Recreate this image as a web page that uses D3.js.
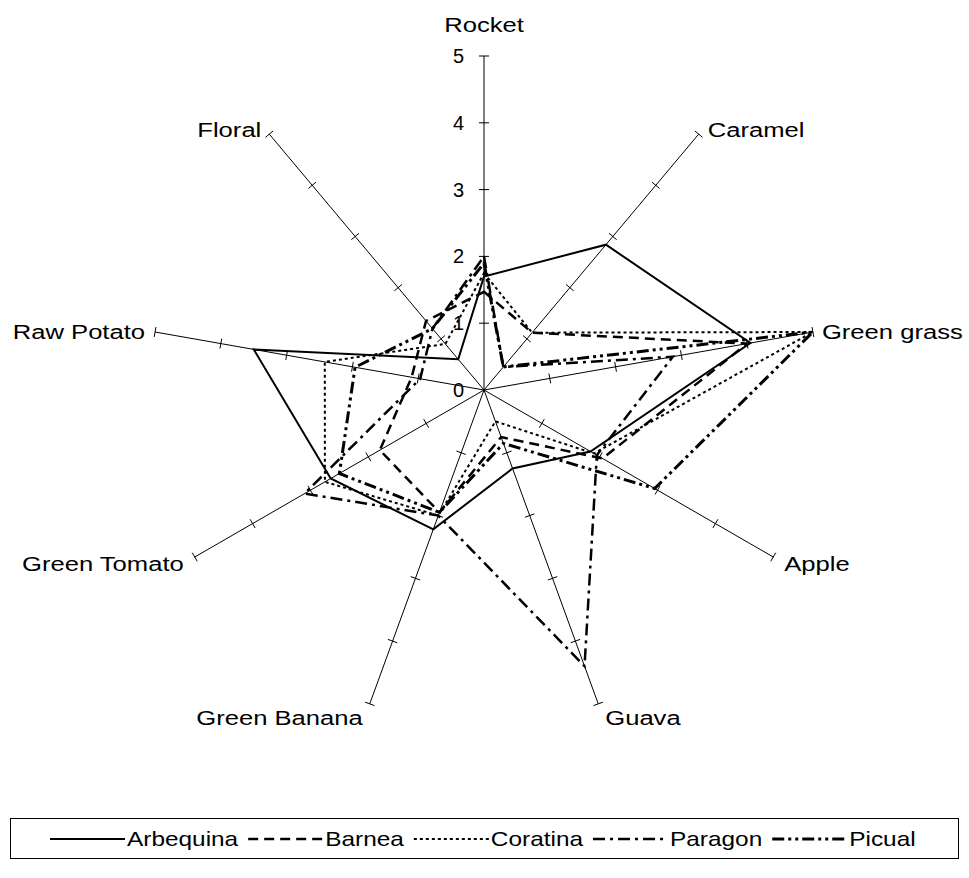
<!DOCTYPE html>
<html>
<head>
<meta charset="utf-8">
<script src="https://cdn.jsdelivr.net/npm/d3@7"></script>
<style>
  body { margin: 0; background: #fff; }
  svg { font-family: "Liberation Sans", Arial, sans-serif; }
</style>
</head>
<body>
<svg id="chart" width="969" height="878"></svg>
<script>
// attributes around the radar, clockwise from the top
var attributes = ['Rocket', 'Caramel', 'Green grass', 'Apple', 'Guava', 'Green Banana', 'Green Tomato', 'Raw Potato', 'Floral'];
var scaleTicks = [0, 1, 2, 3, 4, 5];

var arbequina = [1.7, 2.84, 4.05, 1.84, 1.25, 2.22, 2.65, 3.5, 0.6];
var barnea    = [1.47, 1.12, 4.0, 2.05, 0.75, 1.95, 1.8, 1.1, 1.35];
var coratina  = [1.75, 1.12, 5.0, 1.9, 0.5, 2.0, 2.75, 2.42, 0.9];
var paragon   = [2.0, 0.45, 2.87, 1.95, 4.4, 2.0, 3.1, 0.97, 1.2];
var picual    = [1.9, 0.45, 5.0, 2.95, 0.85, 1.95, 2.5, 1.96, 1.2];

var cultivars = ['Arbequina', 'Barnea', 'Coratina', 'Paragon', 'Picual'];
var seriesValues = [arbequina, barnea, coratina, paragon, picual];

var lineStyles = {
  Arbequina: { dash: null, width: 2 },
  Barnea: { dash: '10,6', width: 2.5 },
  Coratina: { dash: '3,3', width: 2 },
  Paragon: { dash: '12,5,3,5', width: 2.5 },
  Picual: { dash: '12,4,3,4,3,4', width: 3 }
};

// the original text is drawn a little wide
var stretch = 1.22;

var svg = d3.select('#chart');
var cx = 484, cy = 390;

var r = d3.scaleLinear().domain([0, 5]).range([0, 334]);
var angle = d3.scaleLinear().domain([0, attributes.length]).range([0, 2 * Math.PI]);

function pt(i, v) {
  var a = angle(i);
  return [cx + r(v) * Math.sin(a), cy - r(v) * Math.cos(a)];
}

var g = svg.append('g');

// spokes
g.selectAll('line.spoke')
  .data(attributes)
  .enter().append('line')
  .attr('class', 'spoke')
  .attr('x1', cx).attr('y1', cy)
  .attr('x2', (d, i) => pt(i, 5)[0])
  .attr('y2', (d, i) => pt(i, 5)[1])
  .attr('stroke', '#000')
  .attr('stroke-width', 1);

// tick marks across each spoke
attributes.forEach(function(attr, i) {
  var a = angle(i);
  var px = Math.cos(a), py = Math.sin(a);
  g.selectAll(null)
    .data(scaleTicks.slice(1))
    .enter().append('line')
    .attr('x1', (t) => pt(i, t)[0] - 5 * px)
    .attr('y1', (t) => pt(i, t)[1] - 5 * py)
    .attr('x2', (t) => pt(i, t)[0] + 5 * px)
    .attr('y2', (t) => pt(i, t)[1] + 5 * py)
    .attr('stroke', '#000')
    .attr('stroke-width', 1);
});

// scale labels on the Rocket spoke
g.selectAll('text.tick')
  .data(scaleTicks)
  .enter().append('text')
  .attr('class', 'tick')
  .attr('x', cx - 20)
  .attr('y', (t) => cy - r(t) + 7)
  .attr('text-anchor', 'end')
  .attr('font-size', 20)
  .text((t) => t);

// attribute labels
var labelPos = [
  { dx: 0, dy: -24, anchor: 'middle' },
  { dx: 9, dy: 3, anchor: 'start' },
  { dx: 9, dy: 7, anchor: 'start' },
  { dx: 11, dy: 14, anchor: 'start' },
  { dx: 7, dy: 21, anchor: 'start' },
  { dx: -7, dy: 21, anchor: 'end' },
  { dx: -11, dy: 14, anchor: 'end' },
  { dx: -10, dy: 7, anchor: 'end' },
  { dx: -8, dy: 3, anchor: 'end' }
];
g.selectAll('text.attr')
  .data(attributes)
  .enter().append('text')
  .attr('class', 'attr')
  .attr('transform', (d, i) => 'translate(' + (pt(i, 5)[0] + labelPos[i].dx) + ',' +
        (pt(i, 5)[1] + labelPos[i].dy) + ') scale(' + stretch + ',1)')
  .attr('text-anchor', (d, i) => labelPos[i].anchor)
  .attr('font-size', 21)
  .text((d) => d);

// series polygons
var radar = d3.line()
  .x((d) => pt(d.i, d.v)[0])
  .y((d) => pt(d.i, d.v)[1])
  .curve(d3.curveLinearClosed);

g.selectAll('path.series')
  .data(cultivars)
  .enter().append('path')
  .attr('class', 'series')
  .attr('d', (c, k) => radar(seriesValues[k].map((v, i) => ({ i: i, v: v }))))
  .attr('fill', 'none')
  .attr('stroke', '#000')
  .attr('stroke-width', (c) => lineStyles[c].width)
  .attr('stroke-dasharray', (c) => lineStyles[c].dash)
  .attr('stroke-linejoin', 'miter');

// legend
var legend = svg.append('g');
legend.append('rect')
  .attr('x', 10.5).attr('y', 818.5)
  .attr('width', 948).attr('height', 40)
  .attr('fill', 'none').attr('stroke', '#000').attr('stroke-width', 1);

var lx = 50;
cultivars.forEach(function(c) {
  var item = legend.append('g');
  item.append('line')
    .attr('x1', lx).attr('x2', lx + 75)
    .attr('y1', 839).attr('y2', 839)
    .attr('stroke', '#000')
    .attr('stroke-width', lineStyles[c].width)
    .attr('stroke-dasharray', lineStyles[c].dash);
  var t = item.append('text')
    .attr('transform', 'translate(' + (lx + 77) + ',846) scale(' + stretch + ',1)')
    .attr('font-size', 20)
    .text(c);
  lx += 77 + t.node().getComputedTextLength() * stretch + 10;
});
</script>
</body>
</html>
